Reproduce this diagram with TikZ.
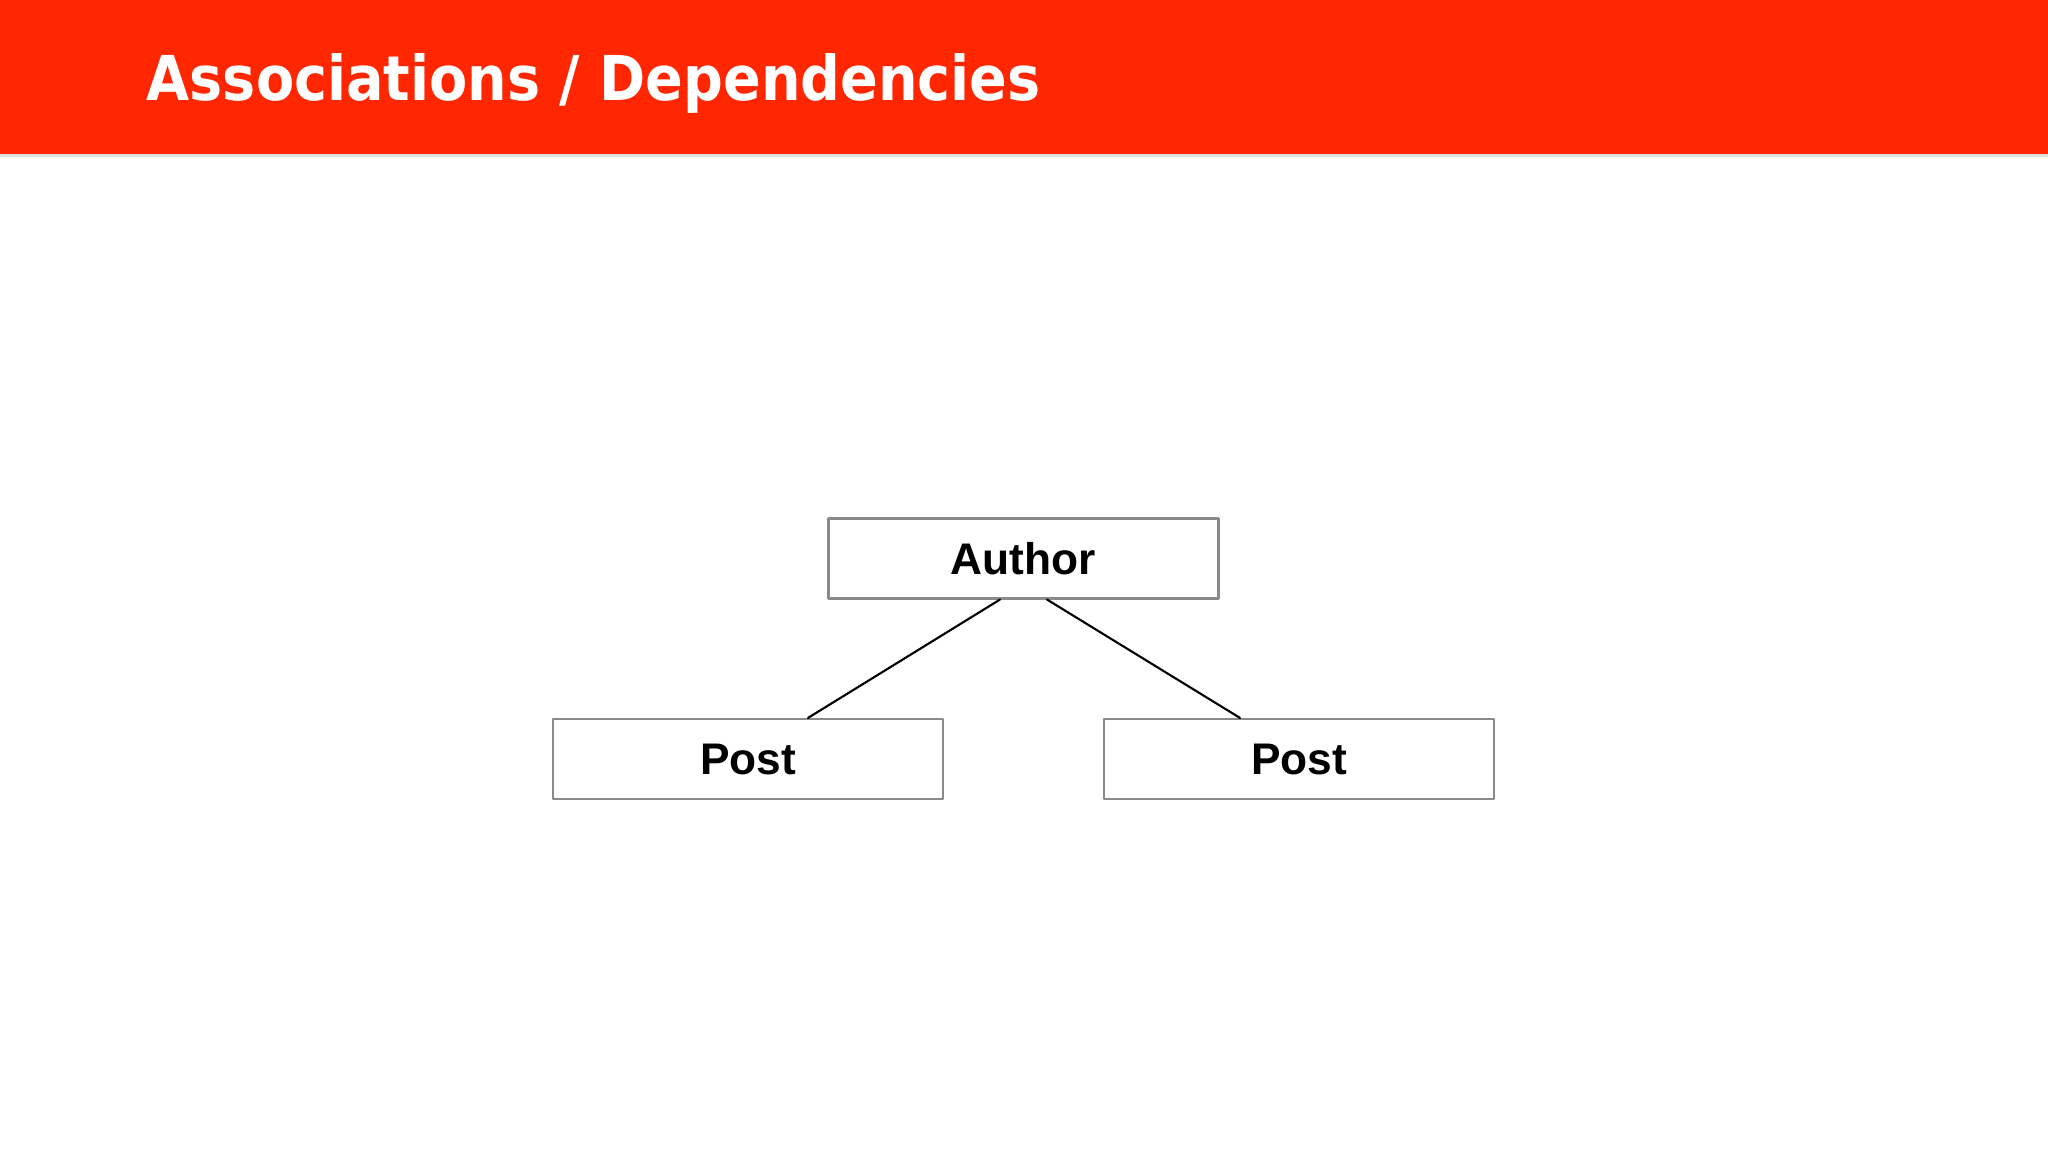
\documentclass[tikz,border=0pt]{standalone}
\usepackage{fontspec}
\setmainfont{Liberation Sans}
\newfontfamily\titlefont{DejaVu Sans Condensed}
\usetikzlibrary{calc}

\definecolor{headred}{HTML}{FF2600}
\definecolor{boxgray}{HTML}{8A8A8A}

\tikzset{
  classbox/.style={draw=boxgray, line width=0.6pt, fill=white, minimum width=3.9cm, minimum height=0.8cm,
    inner sep=0pt, font=\fontsize{12.6}{15}\selectfont\bfseries},
  assoc/.style={line width=0.6pt, black}
}

\begin{document}
\begin{tikzpicture}[line cap=round,line join=round,x=1.0cm,y=1.0cm]
\useasboundingbox (0, 0) rectangle (20.48, 11.52);
\fill[white] (0, 0) rectangle (20.48, 11.52);

% header band
\fill[black!12] (0, 9.95) rectangle (20.48, 9.99);
\fill[headred] (0, 9.98) rectangle (20.48, 11.52);
\node[anchor=base west, inner sep=0pt, text=white, font=\titlefont\fontsize{17.6}{20}\selectfont\bfseries] (title) at (1.46, 10.51) {Associations / Dependencies};

% classes
\node[classbox] (author) at (10.235, 5.935) {Author};
\node[classbox] (postL) at (7.48, 3.93) {Post};
\node[classbox] (postR) at (12.99, 3.93) {Post};

\draw [assoc] ($(author.south)+(-0.235, 0)$) -- ($(postL.north)+(0.6, 0)$);
\draw [assoc] ($(author.south)+(0.235, 0)$) -- ($(postR.north)+(-0.59, 0)$);

\end{tikzpicture}
\end{document}
